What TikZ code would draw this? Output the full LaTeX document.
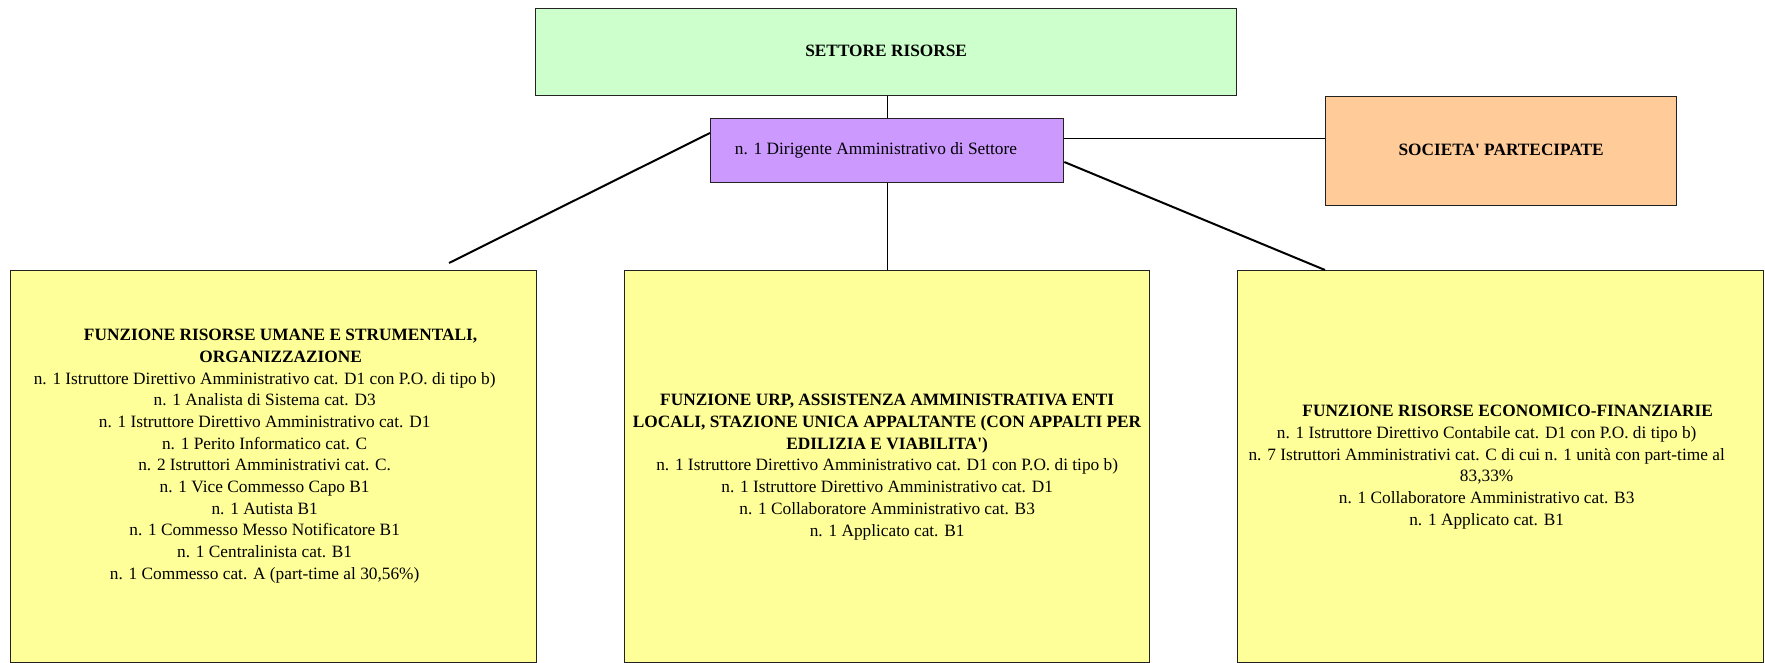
\documentclass[tikz,border=0pt]{standalone}
\usepackage{fontspec}
\setmainfont{Liberation Serif}
\usetikzlibrary{calc}
\definecolor{boxgreen}{HTML}{CCFFCC}
\definecolor{boxpurple}{HTML}{CC99FF}
\definecolor{boxorange}{HTML}{FFCC99}
\definecolor{boxyellow}{HTML}{FFFF99}
\definecolor{edge}{HTML}{222222}
\newcommand{\boxtext}[1]{\begin{tabular}{@{}c@{}}#1\end{tabular}}
\begin{document}
\begin{tikzpicture}[x=1pt,y=-1pt,
  font=\fontsize{17.3}{21.7}\selectfont,
  box/.style={draw=edge, line width=1.3pt, inner sep=0pt, anchor=north west, align=center},
  txt/.style={align=center, inner sep=0pt},
  conn/.style={draw=black, line width=1pt},
  diag/.style={draw=black, line width=2pt}]
\useasboundingbox (0,0) rectangle (1765,663);
% boxes
\node[box, fill=boxgreen, minimum width=701pt, minimum height=87pt] (top) at (535,8) {};
\node[txt] (toptext) at (top.center) {\boxtext{\textbf{SETTORE RISORSE}}};
\node[box, fill=boxpurple, minimum width=353pt, minimum height=64pt] (dir) at (710,118) {};
\node[txt] (dirtext) at (876,150) {\boxtext{n. 1 Dirigente Amministrativo di Settore}};
\node[box, fill=boxorange, minimum width=351pt, minimum height=109pt] (soc) at (1325,96) {};
\node[txt] (soctext) at (soc.center) {\boxtext{\textbf{SOCIETA\textquotesingle{} PARTECIPATE}}};
\node[box, fill=boxyellow, minimum width=526pt, minimum height=392pt] (left) at (10,270) {};
\node[box, fill=boxyellow, minimum width=525pt, minimum height=392pt] (mid) at (624,270) {};
\node[box, fill=boxyellow, minimum width=526pt, minimum height=392pt] (right) at (1237,270) {};
% texts
\node[txt] (lefttext) at ($(left.center)+(-9,-11)$) {\boxtext{\hspace*{32pt}\textbf{FUNZIONE RISORSE UMANE E STRUMENTALI,}\\
\hspace*{32pt}\textbf{ORGANIZZAZIONE}\\
n. 1 Istruttore Direttivo Amministrativo cat. D1 con P.O. di tipo b)\\
n. 1 Analista di Sistema cat. D3\\
n. 1 Istruttore Direttivo Amministrativo cat. D1\\
n. 1 Perito Informatico cat. C\\
n. 2 Istruttori Amministrativi cat. C.\\
n. 1 Vice Commesso Capo B1\\
n. 1 Autista B1\\
n. 1 Commesso Messo Notificatore B1\\
n. 1 Centralinista cat. B1\\
n. 1 Commesso cat. A (part-time al 30,56\%)}};
\node[txt] (midtext) at (mid.center) {\boxtext{\textbf{FUNZIONE URP, ASSISTENZA AMMINISTRATIVA ENTI}\\
\textbf{LOCALI, STAZIONE UNICA APPALTANTE (CON APPALTI PER}\\
\textbf{EDILIZIA E VIABILITA\textquotesingle)}\\
n. 1 Istruttore Direttivo Amministrativo cat. D1 con P.O. di tipo b)\\
n. 1 Istruttore Direttivo Amministrativo cat. D1\\
n. 1 Collaboratore Amministrativo cat. B3\\
n. 1 Applicato cat. B1}};
\node[txt] (righttext) at ($(right.center)+(-14,0)$) {\boxtext{\hspace*{42pt}\textbf{FUNZIONE RISORSE ECONOMICO-FINANZIARIE}\\
n. 1 Istruttore Direttivo Contabile cat. D1 con P.O. di tipo b)\\
n. 7 Istruttori Amministrativi cat. C di cui n. 1 unità con part-time al\\
83,33\%\\
n. 1 Collaboratore Amministrativo cat. B3\\
n. 1 Applicato cat. B1}};
% connectors
\draw[conn] (dir.north) -- (dir.north |- top.south);
\draw[conn] (dir.south) -- (dir.south |- mid.north);
\coordinate (hstart) at ([yshift=-21pt]dir.north east);
\draw[conn] (hstart) -- (hstart -| soc.west);
\coordinate (lstart) at ([yshift=-15pt]dir.north west);
\coordinate (lend) at (449,263);
\draw[diag] (lstart) -- (lend);
\coordinate (rstart) at ([yshift=-44pt]dir.north east);
\coordinate (rend) at ([xshift=88pt]right.north west);
\draw[diag] (rstart) -- (rend);
\end{tikzpicture}
\end{document}
